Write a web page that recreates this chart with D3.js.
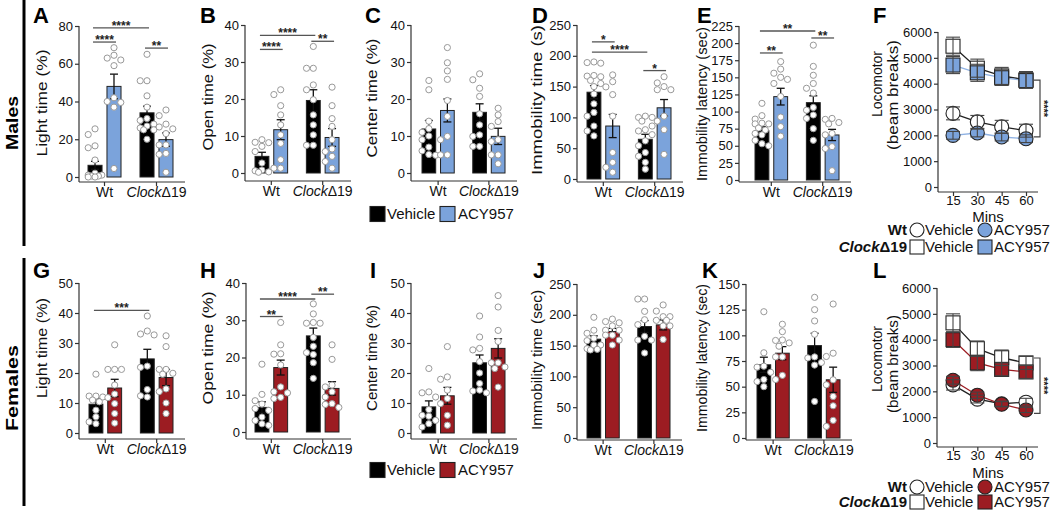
<!DOCTYPE html>
<html><head><meta charset="utf-8">
<script src="https://cdn.jsdelivr.net/npm/d3@7"></script>
<style>
body{margin:0;background:#fff;}
svg{display:block;font-family:"Liberation Sans",Arial,Helvetica,sans-serif;}
</style></head><body>
<svg id="c" width="1050" height="510"></svg>
<script>
// ---------- categories ----------
const groups = ["Wt", "ClockΔ19"];
const treatments = ["Vehicle", "ACY957"];
const mins = [15, 30, 45, 60];

// ---------- tick labels ----------
const A_ticks = [0, 20, 40, 60, 80];
const B_ticks = [0, 10, 20, 30, 40];
const C_ticks = [0, 10, 20, 30, 40];
const D_ticks = [0, 50, 100, 150, 200, 250];
const E_ticks = [0, 25, 50, 75, 100, 125, 150, 175, 200, 225];
const G_ticks = [0, 10, 20, 30, 40, 50];
const H_ticks = [0, 10, 20, 30, 40];
const I_ticks = [0, 10, 20, 30, 40, 50];
const J_ticks = [0, 50, 100, 150, 200, 250];
const K_ticks = [0, 25, 50, 75, 100, 125, 150];
const loco_ticks = [0, 1000, 2000, 3000, 4000, 5000, 6000];

// ---------- bar data (order: Wt-Veh, Wt-ACY, Clock-Veh, Clock-ACY) ----------
const A_mean = [6.2, 48, 34, 19.8];
const A_sem  = [2.1, 6.5, 3.5, 3.5];
const A_pts  = [[25.5,22.5,16.5,15.5,9,2,1,0.5,0,0.5,1,0],
                [68.5,64.5,63,62,59,42,40,39.5,37,4.5],
                [65,51,51,43,37,31,30,28,27,26,25,25,20],
                [35.5,32.5,28,26.5,25.5,23,17,17,12.5,12,2.5]];
const A_sig  = [[0,2,79,"****"],[0,1,71.5,"****"],[2,3,68.3,"**"]];

const B_mean = [4.5, 11.7, 19.6, 9.6];
const B_sem  = [1.1, 2.7, 2.9, 2.4];
const B_pts  = [[9,8.3,8.2,7.2,5.8,2.7,0.8,0.6,0.3,0.2],
                [22.5,21.2,18.2,15.7,13,10.3,8,3.6,1.3,1.3],
                [34.2,28.3,28.3,23.8,22.5,19.8,15.7,13,10.3,7.5,7.5],
                [23.2,18.2,14.7,12.6,9,6.5,5.8,4.5,3.1,1.3]];
const B_sig  = [[0,2,37.2,"****"],[0,1,33.4,"****"],[2,3,35.6,"**"]];

const C_mean = [11.9, 16.9, 16.4, 9.9];
const C_sem  = [2.3, 3.1, 2.3, 2.2];
const C_pts  = [[25,22.5,14,12,11,10,9,7,6,5,4.8],
                [33.9,29.8,27.6,25.3,19.6,15.3,9.9,9,4.9,4.9],
                [26.8,25.2,22.9,20.7,16,13,10.3,9.9,7.2,7.2],
                [17.5,15.7,13.9,12.6,9,8.5,4.9,4.9,2.5]];
const C_sig  = [];

const D_mean = [140.9, 86, 64.5, 115.6];
const D_sem  = [10.7, 18.8, 8.1, 13.4];
const D_pts  = [[190,189,188,168,167,166,160,155,150,138,122,108,102,86,78,70],
                [169,158,149.5,137,102,43,27,19,11],
                [102,100,100,94,86,80,78,72,62,54,43,37,27,16],
                [166,156,150,145,145,102,94,80,40]];
const D_sig  = [[0,1,222.6,"*"],[0,2,206,"****"],[2,3,176,"*"]];

const E_mean = [72, 121.8, 113, 65.8];
const E_sem  = [6, 12.2, 10, 8.2];
const E_pts  = [[112,94,89,83,82,82,76,73,68,66,58,53,50],
                [173,162,156,150,147,141,122,92,78,64],
                [197,166,153,141,134,127,106,102,95,90,75,58],
                [90,88.6,84,82,68,66,48.7,46,13.6]];
const E_sig  = [[0,2,217.7,"**"],[0,1,185.6,"**"],[2,3,207.5,"**"]];

const G_mean = [9.6, 15, 24.7, 18.5];
const G_sem  = [1.9, 2.9, 3.2, 2.7];
const G_pts  = [[19.6,12.3,12.3,12,11,10.4,7.6,5.4,3.7,3.1],
                [29.4,21.2,21.2,21.2,16,13,11.8,9.8,6.5,3.3],
                [39,34,33,32.7,22.3,21.9,14.5,12.4,12],
                [32.4,28.8,21.2,21.2,19.9,19.6,14.7,13.8,10,6.5]];
const G_sig  = [[0,2,40.9,"***"]];

const H_mean = [6.6, 17.3, 25.8, 11.7];
const H_sem  = [1.5, 2, 2.1, 1.8];
const H_pts  = [[18.2,10.1,8.4,7.5,6.3,5.8,4,3.1,2.2,1.8],
                [29.4,23.4,21,20.9,18,12.1,10.8,10.5,9.3,9],
                [34.4,31.7,29.4,29.2,29.2,25.4,23,21.3,20.8,18.6,14.4],
                [23.4,19.5,12.6,12.1,10.8,9.4,7.6,7.4,6.6]];
const H_sig  = [[0,2,35.7,"****"],[0,1,31,"**"],[2,3,37,"**"]];

const I_mean = [8.7, 12.4, 23.4, 28.2];
const I_sem  = [2, 2.8, 2.6, 3.2];
const I_pts  = [[21.5,13.7,13.4,12,7.8,5.9,5.6,4.2,3.1,2],
                [28.8,18.7,17.9,14.3,11.5,9.8,5.9,2.6],
                [39,32,28.2,27.7,23.8,20,16.5,14.3,14,13.4],
                [45.8,42,34.2,30.5,23.4,23.4,22,21.5,15.3]];
const I_sig  = [];

const J_mean = [160.4, 172.8, 181, 183.6];
const J_sem  = [5.4, 5.2, 9.6, 8.1];
const J_pts  = [[196,175,170,162,158,151,151,145,144,143],
                [193,189,187,182,175,175,167,167,159,151],
                [225.6,225.6,205.6,192,184,165,159,159,138],
                [216,206,197,197,191,191,182,182,160]];
const J_sig  = [];

const K_mean = [71.3, 82.6, 90, 56.7];
const K_sem  = [7.4, 6.4, 12, 12.3];
const K_pts  = [[123,83,70,69,64,57,55,50],
                [110.8,103.6,95.5,95,92.6,89.4,79,79,61,57],
                [137,125,114,101,79,78,73.5,71,35.6],
                [130.5,82.6,79.4,56.7,51.8,40.5,31.4,17.2,11.3]];
const K_sig  = [];

// ---------- locomotor data ----------
const F_wtVeh = [2850, 2520, 2330, 2180];
const F_wtAcy = [2000, 2090, 1935, 1870];
const F_clVeh = [5450, 4600, 4300, 4150];
const F_clAcy = [4720, 4420, 4230, 4120];
const F_wtVehSem = [250, 250, 250, 250];
const F_wtAcySem = [150, 150, 150, 150];
const F_clVehSem = [350, 350, 330, 320];
const F_clAcySem = [330, 330, 300, 300];
const F_bracket = [4140, 1940];

const L_wtVeh = [2250, 1700, 1520, 1580];
const L_wtAcy = [2430, 1850, 1500, 1280];
const L_clVeh = [4650, 3650, 3300, 3100];
const L_clAcy = [4000, 3100, 2850, 2750];
const L_wtVehSem = [200, 150, 100, 150];
const L_wtAcySem = [150, 120, 100, 100];
const L_clVehSem = [350, 300, 300, 250];
const L_clAcySem = [300, 300, 250, 250];
const L_bracket = [3290, 1150];

// ---------- styling ----------
const BLUE = "#7ba3db", RED = "#9c1c22", BLUE_LINE = "#8fb2e3";
const AX = "#333";
const svg = d3.select("#c");

function clockLabel(sel, d){
  sel.text(null);
  if (d === "Wt") { sel.text("Wt"); return; }
  sel.append("tspan").attr("font-style","italic").text("Clock");
  sel.append("tspan").text("Δ19");
}

function rotLabel(g, txt, x, y, len, fs){
  g.append("text").attr("transform",`translate(${x},${y}) rotate(-90)`)
    .attr("text-anchor","middle").attr("font-size",fs||15).attr("fill","#111")
    .attr("textLength",len).attr("lengthAdjust","spacingAndGlyphs").text(txt);
}

function dodge(vals, cx, y, r, maxOff){
  const placed = [];
  const s = 2*r + 0.6;
  const offs = [0,-s,s,-0.5*s,0.5*s,-1.5*s,1.5*s,-2*s,2*s].filter(o=>Math.abs(o)<=maxOff);
  vals.slice().sort((a,b)=>b-a).forEach(v=>{
    const py = y(v);
    let best = cx, bestD = -1;
    for (const o of offs){
      const px = cx + o;
      let md = Infinity;
      placed.forEach(q=>{ md = Math.min(md, Math.hypot(q.x-px, q.y-py)); });
      if (md >= 2*r + 0.3){ best = px; bestD = md; break; }
      if (md > bestD){ bestD = md; best = px; }
    }
    placed.push({x:best, y:py});
  });
  return placed;
}

function panelLetter(t, x, y){
  svg.append("text").attr("x",x).attr("y",y).attr("font-size",22).attr("font-weight","bold").text(t);
}

function styleAxis(gAxis, fs){
  gAxis.selectAll(".tick line").attr("stroke", AX).attr("stroke-width",1.2);
  gAxis.selectAll(".tick text").attr("font-size",fs).attr("fill","#111").attr("font-family",null);
}

function barPanel(p){
  const g = svg.append("g");
  const ymax = d3.max(p.ticks);
  const y = d3.scaleLinear().domain([0, ymax]).range([p.y0, p.yTop]);
  const xo = d3.scaleBand().domain(groups).range([p.bx0, p.bx1]).paddingInner(0.365).paddingOuter(0);
  const xi = d3.scaleBand().domain(treatments).range([0, xo.bandwidth()]).paddingInner(0.26);
  const bars = [];
  groups.forEach((gn,gi)=>treatments.forEach((t,ti)=>{
    const k = gi*2+ti;
    bars.push({k, x: xo(gn)+xi(t), w: xi.bandwidth(), mean: p.mean[k], sem: p.sem[k], pts: p.pts[k], fill: ti===0 ? "#000" : p.color});
  }));

  const gy = g.append("g").attr("transform",`translate(${p.ax},0)`)
    .call(d3.axisLeft(y).tickValues(p.ticks).tickFormat(d3.format("d")).tickSize(4).tickSizeOuter(0).tickPadding(2));
  gy.select(".domain").remove();
  gy.append("line").attr("y1", y(ymax)).attr("y2", p.axisY).attr("stroke", AX).attr("stroke-width",1.2);
  styleAxis(gy, 13);

  const gx = g.append("g").attr("transform",`translate(0,${p.axisY})`)
    .call(d3.axisBottom(xo).tickSize(4).tickSizeOuter(0).tickPadding(1));
  gx.select(".domain").remove();
  gx.append("line").attr("x1", p.ax).attr("x2", p.bx1 + 12).attr("stroke", AX).attr("stroke-width",1.2);
  styleAxis(gx, 14);
  gx.selectAll(".tick text").each(function(d){ clockLabel(d3.select(this), d); });

  g.selectAll("rect.bar").data(bars).join("rect").attr("class","bar")
    .attr("x", d=>d.x).attr("width", d=>d.w)
    .attr("y", d=>y(d.mean)).attr("height", d=>y(0)-y(d.mean))
    .attr("fill", d=>d.fill).attr("stroke","#222").attr("stroke-width",1);

  bars.forEach(d=>{
    const cx = d.x + d.w/2;
    const e = g.append("g").attr("stroke","#111").attr("stroke-width",1.3);
    e.append("line").attr("x1",cx).attr("x2",cx).attr("y1",y(d.mean-d.sem)).attr("y2",y(d.mean+d.sem));
    e.append("line").attr("x1",cx-4).attr("x2",cx+4).attr("y1",y(d.mean+d.sem)).attr("y2",y(d.mean+d.sem));
    e.append("line").attr("x1",cx-4).attr("x2",cx+4).attr("y1",y(d.mean-d.sem)).attr("y2",y(d.mean-d.sem));
  });

  bars.forEach(d=>{
    const pos = dodge(d.pts, d.x + d.w/2, y, 3.1, d.w/2 + 2);
    g.append("g").selectAll("circle").data(pos).join("circle")
      .attr("cx", q=>q.x).attr("cy", q=>q.y).attr("r", 3.1)
      .attr("fill","#fff").attr("stroke","#999").attr("stroke-width",1);
  });

  p.sig.forEach(([i,j,v,lab])=>{
    const x1 = bars[i].x + bars[i].w/2 - 2, x2 = bars[j].x + bars[j].w/2 + 2, yy = y(v);
    g.append("line").attr("x1",x1).attr("x2",x2).attr("y1",yy).attr("y2",yy).attr("stroke","#555").attr("stroke-width",1.3);
    g.append("text").attr("x",(x1+x2)/2).attr("y",yy+2).attr("text-anchor","middle")
      .attr("font-size",12).attr("font-weight","bold").attr("fill","#222").text(lab);
  });

  rotLabel(g, p.label, p.lx, p.ly, p.llen);
  panelLetter(p.id, p.letterX, p.letterY);
}

function linePanel(p){
  const g = svg.append("g");
  const ymax = d3.max(loco_ticks);
  const y = d3.scaleLinear().domain([0, ymax]).range([p.y0, p.yTop]);
  const x = d3.scalePoint().domain(mins).range([953, 1026]);

  const gy = g.append("g").attr("transform",`translate(${p.ax},0)`)
    .call(d3.axisLeft(y).tickValues(loco_ticks).tickFormat(d3.format("d")).tickSize(4).tickSizeOuter(0).tickPadding(2));
  gy.select(".domain").remove();
  gy.append("line").attr("y1", y(ymax)).attr("y2", p.axisY).attr("stroke", AX).attr("stroke-width",1.2);
  styleAxis(gy, 13);

  const gx = g.append("g").attr("transform",`translate(0,${p.axisY})`)
    .call(d3.axisBottom(x).tickSize(4).tickSizeOuter(0).tickPadding(0));
  gx.select(".domain").remove();
  gx.append("line").attr("x1", p.ax).attr("x2", 1038).attr("stroke", AX).attr("stroke-width",1.2);
  styleAxis(gx, 13);

  g.append("text").attr("x",988).attr("y",p.minsY).attr("text-anchor","middle").attr("font-size",15).attr("fill","#111").text("Mins");

  const series = [
    {v:p.wtVeh, s:p.wtVehSem, shape:"circle", fill:"#fff", line:"#222"},
    {v:p.wtAcy, s:p.wtAcySem, shape:"circle", fill:p.color, line:p.lineColor},
    {v:p.clVeh, s:p.clVehSem, shape:"square", fill:"#fff", line:"#222"},
    {v:p.clAcy, s:p.clAcySem, shape:"square", fill:p.color, line:p.lineColor}
  ];
  const ln = d3.line().x((d,i)=>x(mins[i])).y(d=>y(d));
  series.forEach(sr=>{
    g.append("path").attr("d", ln(sr.v)).attr("fill","none").attr("stroke", sr.line).attr("stroke-width",1.3);
  });
  series.forEach(sr=>{
    sr.v.forEach((v,i)=>{
      const cx = x(mins[i]), cy = y(v);
      if (sr.shape === "circle")
        g.append("circle").attr("cx",cx).attr("cy",cy).attr("r",7).attr("fill",sr.fill).attr("stroke","#222").attr("stroke-width",1.1);
      else
        g.append("rect").attr("x",cx-7).attr("y",cy-7).attr("width",14).attr("height",14).attr("fill",sr.fill).attr("stroke","#222").attr("stroke-width",1.1);
    });
  });
  series.forEach(sr=>{
    sr.v.forEach((v,i)=>{
      const cx = x(mins[i]);
      const e = g.append("g").attr("stroke","#444").attr("stroke-width",1.1);
      e.append("line").attr("x1",cx).attr("x2",cx).attr("y1",y(v-sr.s[i])).attr("y2",y(v+sr.s[i]));
      e.append("line").attr("x1",cx-7).attr("x2",cx+7).attr("y1",y(v+sr.s[i])).attr("y2",y(v+sr.s[i]));
      e.append("line").attr("x1",cx-7).attr("x2",cx+7).attr("y1",y(v-sr.s[i])).attr("y2",y(v-sr.s[i]));
    });
  });

  const b0 = y(p.bracket[0]), b1 = y(p.bracket[1]);
  g.append("path").attr("d",`M1034,${b0}H1040V${b1}H1034`).attr("fill","none").attr("stroke","#444").attr("stroke-width",1.2);
  g.append("text").attr("transform",`translate(1040,${(b0+b1)/2}) rotate(90)`).attr("text-anchor","middle")
    .attr("font-size",11).attr("font-weight","bold").attr("fill","#222").text("****");

  rotLabel(g, "Locomotor", 882, p.ly1, p.len1);
  rotLabel(g, "(beam breaks)", 898, p.ly2, p.len2);

  const rows = [{lab:"Wt", shape:"circle", y:p.legY[0]}, {lab:"ClockΔ19", shape:"square", y:p.legY[1]}];
  rows.forEach(r=>{
    const t = g.append("text").attr("x",907).attr("y",r.y).attr("dy","0.36em").attr("text-anchor","end")
      .attr("font-size",15).attr("font-weight","bold").attr("fill","#111");
    clockLabel(t, r.lab);
    [[917,"#fff","Vehicle",925],[985,p.color,"ACY957",994]].forEach(([mx,fill,txt,tx])=>{
      if (r.shape === "circle")
        g.append("circle").attr("cx",mx).attr("cy",r.y).attr("r",7).attr("fill",fill).attr("stroke","#222").attr("stroke-width",1.1);
      else
        g.append("rect").attr("x",mx-7).attr("y",r.y-7).attr("width",14).attr("height",14).attr("fill",fill).attr("stroke","#222").attr("stroke-width",1.1);
      g.append("text").attr("x",tx).attr("y",r.y).attr("dy","0.36em").attr("font-size",15).attr("fill","#111").text(txt);
    });
  });

  panelLetter(p.id, p.letterX, p.letterY);
}

function barLegend(yc, color){
  const g = svg.append("g");
  [[370,"#000","Vehicle",387],[440,color,"ACY957",458]].forEach(([x0,fill,txt,tx])=>{
    g.append("rect").attr("x",x0).attr("y",yc-7.5).attr("width",15).attr("height",15).attr("fill",fill).attr("stroke","#222").attr("stroke-width",1.1);
    g.append("text").attr("x",tx).attr("y",yc).attr("dy","0.36em").attr("font-size",15).attr("fill","#111").text(txt);
  });
}

// ---------- panels ----------
barPanel({id:"A", label:"Light time (%)", ticks:A_ticks, mean:A_mean, sem:A_sem, pts:A_pts, sig:A_sig, color:BLUE,
  ax:79, yTop:26, y0:177, axisY:182, bx0:88, bx1:173, lx:47, ly:103, llen:107, letterX:33, letterY:23});
barPanel({id:"B", label:"Open time (%)", ticks:B_ticks, mean:B_mean, sem:B_sem, pts:B_pts, sig:B_sig, color:BLUE,
  ax:245, yTop:25, y0:173, axisY:181, bx0:255, bx1:339, lx:213, ly:97, llen:107, letterX:200, letterY:23});
barPanel({id:"C", label:"Center time (%)", ticks:C_ticks, mean:C_mean, sem:C_sem, pts:C_pts, sig:C_sig, color:BLUE,
  ax:411, yTop:25, y0:173, axisY:181, bx0:422, bx1:505, lx:377, ly:98, llen:119, letterX:365, letterY:23});
barPanel({id:"D", label:"Immobility time (s)", ticks:D_ticks, mean:D_mean, sem:D_sem, pts:D_pts, sig:D_sig, color:BLUE,
  ax:577, yTop:25, y0:179, axisY:182, bx0:587, bx1:671, lx:542, ly:100, llen:150, letterX:532, letterY:23});
barPanel({id:"E", label:"Immobility latency (sec)", ticks:E_ticks, mean:E_mean, sem:E_sem, pts:E_pts, sig:E_sig, color:BLUE,
  ax:739, yTop:26, y0:180, axisY:182, bx0:755, bx1:839, lx:707, ly:104, llen:154, letterX:697, letterY:23});
linePanel({id:"F", color:BLUE, lineColor:BLUE_LINE, ax:938, yTop:32, y0:187, axisY:192, minsY:222, legY:[230,247],
  ly1:84, len1:66, ly2:95, len2:110,
  wtVeh:F_wtVeh, wtAcy:F_wtAcy, clVeh:F_clVeh, clAcy:F_clAcy,
  wtVehSem:F_wtVehSem, wtAcySem:F_wtAcySem, clVehSem:F_clVehSem, clAcySem:F_clAcySem, bracket:F_bracket, letterX:873, letterY:23});

barPanel({id:"G", label:"Light time (%)", ticks:G_ticks, mean:G_mean, sem:G_sem, pts:G_pts, sig:G_sig, color:RED,
  ax:79, yTop:283, y0:433, axisY:439, bx0:89, bx1:173, lx:47, ly:348, llen:100, letterX:33, letterY:278});
barPanel({id:"H", label:"Open time (%)", ticks:H_ticks, mean:H_mean, sem:H_sem, pts:H_pts, sig:H_sig, color:RED,
  ax:246, yTop:283, y0:432, axisY:439, bx0:255, bx1:339, lx:213, ly:348, llen:113, letterX:200, letterY:278});
barPanel({id:"I", label:"Center time (%)", ticks:I_ticks, mean:I_mean, sem:I_sem, pts:I_pts, sig:I_sig, color:RED,
  ax:411, yTop:283, y0:433, axisY:439, bx0:422, bx1:505, lx:377, ly:358, llen:106, letterX:370, letterY:278});
barPanel({id:"J", label:"Immobility time (sec)", ticks:J_ticks, mean:J_mean, sem:J_sem, pts:J_pts, sig:J_sig, color:RED,
  ax:577, yTop:284, y0:438, axisY:440, bx0:587, bx1:670, lx:542, ly:360, llen:140, letterX:533, letterY:278});
barPanel({id:"K", label:"Immobility latency (sec)", ticks:K_ticks, mean:K_mean, sem:K_sem, pts:K_pts, sig:K_sig, color:RED,
  ax:746, yTop:284, y0:438, axisY:440, bx0:757, bx1:840, lx:707, ly:358, llen:148, letterX:702, letterY:278});
linePanel({id:"L", color:RED, lineColor:RED, ax:937, yTop:288, y0:443, axisY:447, minsY:478, legY:[487,502],
  ly1:359, len1:66, ly2:364, len2:98,
  wtVeh:L_wtVeh, wtAcy:L_wtAcy, clVeh:L_clVeh, clAcy:L_clAcy,
  wtVehSem:L_wtVehSem, wtAcySem:L_wtAcySem, clVehSem:L_clVehSem, clAcySem:L_clAcySem, bracket:L_bracket, letterX:873, letterY:278});

barLegend(214, BLUE);
barLegend(470, RED);

// row labels
svg.append("line").attr("x1",24).attr("x2",24).attr("y1",0).attr("y2",246).attr("stroke","#000").attr("stroke-width",3);
svg.append("line").attr("x1",24).attr("x2",24).attr("y1",258).attr("y2",506).attr("stroke","#000").attr("stroke-width",3);
svg.append("text").attr("transform","translate(18,123) rotate(-90)").attr("text-anchor","middle").attr("font-size",17)
  .attr("font-weight","bold").attr("textLength",54).attr("lengthAdjust","spacingAndGlyphs").text("Males");
svg.append("text").attr("transform","translate(18,388) rotate(-90)").attr("text-anchor","middle").attr("font-size",17)
  .attr("font-weight","bold").attr("textLength",86).attr("lengthAdjust","spacingAndGlyphs").text("Females");
</script>
</body></html>
